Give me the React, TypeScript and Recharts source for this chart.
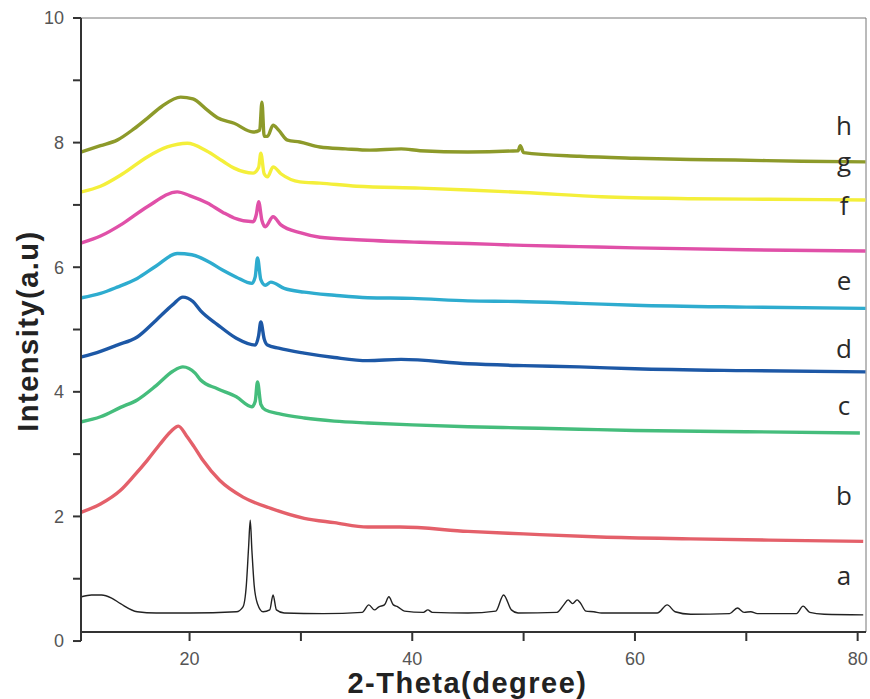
import { LineChart, Line, XAxis, YAxis, ReferenceLine, Label } from "recharts"

// XRD patterns, [2-theta, intensity]
const seriesA = [
  [10.3, 0.71], [11.2, 0.74], [12.1, 0.74], [13, 0.69], [13.8, 0.6], [15.3, 0.47], [17, 0.45], [20, 0.45],
  [24.2, 0.47], [24.8, 0.55], [25.1, 0.9], [25.3, 1.5], [25.45, 1.94], [25.6, 1.45], [25.8, 0.9],
  [26.1, 0.6], [26.6, 0.47], [27.2, 0.5], [27.5, 0.74], [27.8, 0.5], [28.5, 0.45], [32, 0.44],
  [35.5, 0.46], [36.1, 0.58], [36.6, 0.5], [37, 0.55], [37.5, 0.58], [37.9, 0.71], [38.3, 0.58],
  [38.7, 0.55], [39.3, 0.48], [41, 0.46], [41.4, 0.5], [41.8, 0.46], [45, 0.45], [47.5, 0.48],
  [48.2, 0.74], [48.9, 0.5], [49.5, 0.45], [53, 0.46], [53.6, 0.58], [54, 0.66], [54.4, 0.6],
  [54.8, 0.66], [55.1, 0.61], [55.6, 0.48], [56.3, 0.47], [57, 0.45], [62, 0.45], [62.9, 0.58],
  [63.6, 0.47], [65, 0.43], [68.5, 0.44], [69.2, 0.53], [69.8, 0.46], [70.4, 0.47], [71, 0.44],
  [74.5, 0.44], [75.1, 0.56], [75.7, 0.46], [77, 0.43], [80.5, 0.42],
]
const seriesB = [
  [10.3, 2.07], [12, 2.2], [13.8, 2.42], [15, 2.65], [16.2, 2.9], [17.3, 3.15], [18.3, 3.36],
  [19.0, 3.45], [19.7, 3.3], [20.4, 3.12], [21.2, 2.9], [22.7, 2.58], [24.8, 2.31], [27.3, 2.13],
  [30.3, 1.97], [33, 1.9], [36, 1.83], [38.9, 1.83], [45, 1.76], [50, 1.72], [56.9, 1.67],
  [65, 1.64], [72, 1.62], [80.5, 1.6],
]
const seriesC = [
  [10.3, 3.52], [12, 3.6], [13.8, 3.75], [15.3, 3.87], [17, 4.1], [18.5, 4.33], [19.4, 4.4],
  [20.5, 4.3], [21, 4.19], [22.5, 4.05], [24.2, 3.92], [25.6, 3.76], [25.9, 3.85], [26.1, 4.16],
  [26.4, 3.8], [26.8, 3.71], [28, 3.65], [30.3, 3.58], [33, 3.53], [36, 3.5], [40, 3.47],
  [45, 3.44], [50, 3.42], [55, 3.4], [60, 3.38], [70, 3.36], [80.2, 3.34],
]
const seriesD = [
  [10.3, 4.56], [12, 4.65], [13.5, 4.75], [15.3, 4.88], [17, 5.15], [18.5, 5.4], [19.4, 5.52],
  [20.3, 5.45], [21, 5.3], [22.5, 5.08], [24.2, 4.86], [25.9, 4.75], [26.2, 4.9], [26.4, 5.12],
  [26.7, 4.85], [27, 4.75], [28, 4.7], [30.3, 4.62], [33, 4.55], [36, 4.5], [39, 4.52],
  [45, 4.45], [50, 4.42], [55, 4.4], [60, 4.37], [70, 4.34], [80.7, 4.32],
]
const seriesE = [
  [10.3, 5.51], [12, 5.58], [13.5, 5.68], [15.3, 5.82], [17, 6.02], [18.9, 6.22], [20.2, 6.2],
  [21.8, 6.08], [23, 5.95], [24.2, 5.84], [25.6, 5.74], [25.9, 5.85], [26.1, 6.15], [26.4, 5.8],
  [26.8, 5.71], [27.3, 5.76], [28.5, 5.66], [30.3, 5.6], [33, 5.55], [36, 5.51], [40, 5.5],
  [45, 5.46], [49.5, 5.45], [55, 5.42], [60, 5.39], [70, 5.36], [80.7, 5.34],
]
const seriesF = [
  [10.3, 6.39], [12, 6.5], [14, 6.7], [16.2, 6.97], [18.9, 7.21], [20, 7.15], [21.6, 7.03],
  [23, 6.88], [24, 6.79], [25.7, 6.73], [26, 6.85], [26.2, 7.05], [26.5, 6.75], [26.8, 6.65],
  [27.5, 6.81], [28.2, 6.68], [30, 6.55], [31.7, 6.48], [35, 6.44], [40.7, 6.4], [45, 6.38],
  [50, 6.35], [55, 6.33], [60, 6.31], [70, 6.28], [80.7, 6.26],
]
const seriesG = [
  [10.3, 7.21], [12, 7.3], [14, 7.5], [16.2, 7.77], [18, 7.93], [19.8, 7.99], [21.5, 7.87],
  [23, 7.7], [24, 7.59], [25.7, 7.51], [26.2, 7.6], [26.4, 7.83], [26.7, 7.5], [27, 7.45],
  [27.5, 7.61], [28.2, 7.5], [29.9, 7.37], [31.7, 7.35], [35, 7.3], [40.7, 7.27], [45, 7.24],
  [50, 7.2], [57, 7.13], [65, 7.1], [72, 7.09], [80.7, 7.08],
]
const seriesH = [
  [10.3, 7.85], [12, 7.95], [13.5, 8.04], [15, 8.22], [16.2, 8.39], [17.5, 8.58], [19.2, 8.73],
  [20.3, 8.7], [21.6, 8.52], [22.5, 8.4], [24, 8.31], [25.7, 8.17], [26.3, 8.2], [26.5, 8.65],
  [26.7, 8.1], [27, 8.1], [27.5, 8.28], [28, 8.2], [28.8, 8.04], [29.9, 8.01], [31.7, 7.93],
  [34, 7.9], [36.2, 7.88], [39, 7.9], [40.7, 7.87], [45, 7.85], [49.5, 7.87], [49.7, 7.95],
  [50, 7.84], [55, 7.78], [60, 7.75], [65, 7.73], [69, 7.72], [75, 7.7], [80.7, 7.69],
]

const names = ["a", "b", "c", "d", "e", "f", "g", "h"]
const colors = ["#222222", "#e4606a", "#45bd7c", "#1d58a6", "#2eaccf", "#e050a8", "#f4ef3a", "#8d9a2a"]
const xTicks = [20, 30, 40, 50, 60, 70, 80]
const yTicks = [0, 1, 2, 3, 4, 5, 6, 7, 8, 9, 10]

const allSeries = [seriesA, seriesB, seriesC, seriesD, seriesE, seriesF, seriesG, seriesH]
const lines = allSeries.map((s) => s.map(([x, y]) => ({ x, y })))

const xMin = 10.25
const xMax = 80.75
const yMin = 0.145

// baseline of each curve letter, page pixels
const letterX = 844
const letterY = [585, 505, 415, 358, 290, 215, 171, 135]

const tickStyle = { fontSize: 18, fill: "#555", fontFamily: "'Liberation Sans', Arial, sans-serif" }
const titleFont = "'Liberation Sans', Arial, sans-serif"

export default function App() {
  return (
    <div style={{ position: "absolute", left: 0, top: 0, width: 870, height: 699, background: "#fff" }}>
      <LineChart width={870} height={699} margin={{ top: 18, right: 4, bottom: 27, left: 0 }}>
        <XAxis
          dataKey="x"
          type="number"
          domain={[xMin, xMax]}
          allowDataOverflow
          ticks={xTicks}
          interval={0}
          tickFormatter={(v) => (v % 20 === 0 ? String(v) : "")}
          tick={tickStyle}
          tickSize={9}
          tickMargin={11}
          height={40}
          axisLine={{ stroke: "#333", strokeWidth: 2 }}
          tickLine={{ stroke: "#333", strokeWidth: 2 }}
        >
          <Label
            content={({ viewBox }: any) => (
              <text
                x={viewBox.x + viewBox.width / 2 - 6}
                y={viewBox.y + 61}
                textAnchor="middle"
                fontFamily={titleFont}
                fontWeight="bold"
                fontSize={29}
                letterSpacing={1.5}
                fill="#222"
              >
                2-Theta(degree)
              </text>
            )}
          />
        </XAxis>
        <YAxis
          type="number"
          domain={[yMin, 10]}
          allowDataOverflow
          ticks={yTicks}
          interval={0}
          tickFormatter={(v) => (v % 2 === 0 ? String(v) : "")}
          tick={tickStyle}
          tickSize={8}
          tickMargin={9}
          width={81}
          axisLine={{ stroke: "#333", strokeWidth: 2 }}
          tickLine={{ stroke: "#333", strokeWidth: 2 }}
        >
          <Label
            content={({ viewBox }: any) => {
              const cx = 38
              const cy = viewBox.y + viewBox.height / 2 + 6
              return (
                <text
                  x={cx}
                  y={cy}
                  transform={`rotate(-90 ${cx} ${cy})`}
                  textAnchor="middle"
                  fontFamily={titleFont}
                  fontWeight="bold"
                  fontSize={29}
                  letterSpacing={1.5}
                  fill="#222"
                >
                  Intensity(a.u)
                </text>
              )
            }}
          />
        </YAxis>
        <ReferenceLine y={10} stroke="#777" strokeWidth={1} />
        <ReferenceLine x={xMax} stroke="#777" strokeWidth={1} />
        <ReferenceLine
          segment={[{ x: xMin, y: 0 }, { x: xMin, y: yMin }]}
          ifOverflow="visible"
          stroke="#333"
          strokeWidth={2}
        />
        {lines.map((data, i) => (
          <Line
            key={names[i]}
            data={data}
            dataKey="y"
            type="monotone"
            stroke={colors[i]}
            strokeWidth={i === 0 ? 1.4 : 3.4}
            dot={false}
            isAnimationActive={false}
          />
        ))}
      </LineChart>
      <svg
        width={870}
        height={699}
        style={{ position: "absolute", left: 0, top: 0, pointerEvents: "none" }}
      >
        {names.map((n, i) => (
          <text
            key={n}
            x={letterX}
            y={letterY[i]}
            textAnchor="middle"
            fontFamily="'Open Sans', sans-serif"
            fontSize={26}
            fill="#2a2a2a"
          >
            {n}
          </text>
        ))}
      </svg>
    </div>
  )
}
